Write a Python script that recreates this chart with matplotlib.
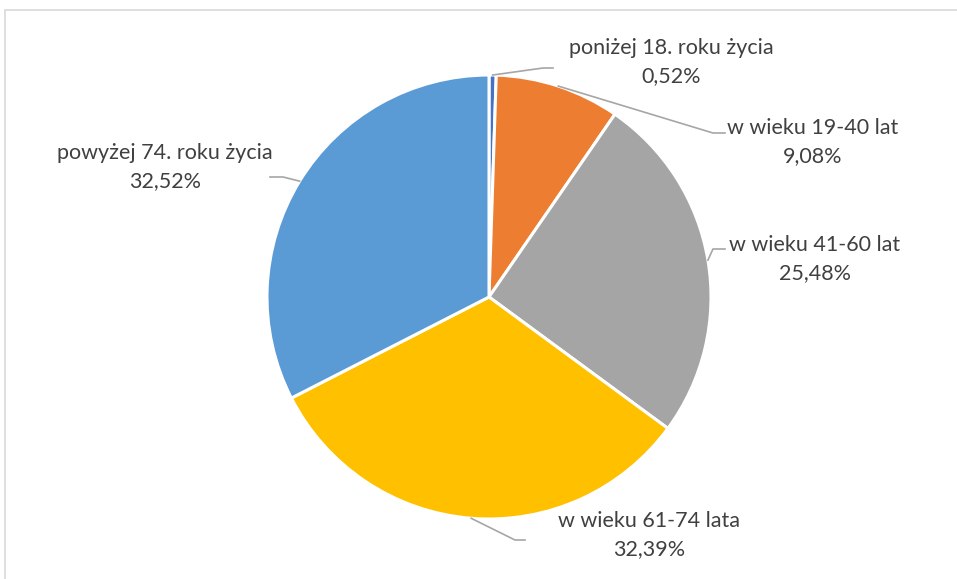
import numpy as np
import matplotlib.pyplot as plt
from matplotlib.patches import Rectangle

# dane
kategorie = ["poniżej 18. roku życia", "w wieku 19-40 lat", "w wieku 41-60 lat",
             "w wieku 61-74 lata", "powyżej 74. roku życia"]
procenty = [0.52, 9.08, 25.48, 32.39, 32.52]
etykiety_proc = ["0,52%", "9,08%", "25,48%", "32,39%", "32,52%"]
kolory = ["#4472C4", "#ED7D31", "#A5A5A5", "#FFC000", "#5B9BD5"]

# pozycje etykiet (piksele obrazu) i łamanie linii odniesienia
pozycje_tekstu = [(671, 62), (813, 142), (815, 259), (649, 535), (165, 167)]
kolanka = [(543, 68), (713, 133), (713, 249), (515, 540), (283, 177)]
konce = [(553, 68), (725, 133), (725, 249), (525, 540), (270, 177)]

W, H = 957, 579
fig = plt.figure(figsize=(W / 100, H / 100), dpi=100)
ax = fig.add_axes([0, 0, 1, 1])
ax.set_xlim(0, W)
ax.set_ylim(0, H)
ax.set_aspect("equal")
ax.axis("off")

# ramka wykresu
ax.add_patch(Rectangle((4.5, -20), W + 20, H - 9.5 + 20, fill=False,
                       edgecolor="#D9D9D9", linewidth=1.2))

cx, cy, r = 489, H - 297, 222
wedges, _ = ax.pie(procenty, colors=kolory, startangle=90, counterclock=False,
                   center=(cx, cy), radius=r, frame=True,
                   wedgeprops=dict(edgecolor="white", linewidth=2.2))
ax.set_xlim(0, W)
ax.set_ylim(0, H)
ax.axis("off")

for w, kat, proc, (tx, ty), (kx, ky), (ex, ey) in zip(
        wedges, kategorie, etykiety_proc, pozycje_tekstu, kolanka, konce):
    mid = np.deg2rad((w.theta1 + w.theta2) / 2)
    sx, sy = cx + r * np.cos(mid), cy + r * np.sin(mid)
    ax.plot([sx, kx, ex], [sy, H - ky, H - ey], color="#A6A6A6", linewidth=1.2)
    ax.text(tx, H - ty, f"{kat}\n{proc}", ha="center", va="center",
            multialignment="center", fontsize=15.5, family="Lato",
            color="#404040", linespacing=1.5)

fig.savefig("out.png", dpi=100)
